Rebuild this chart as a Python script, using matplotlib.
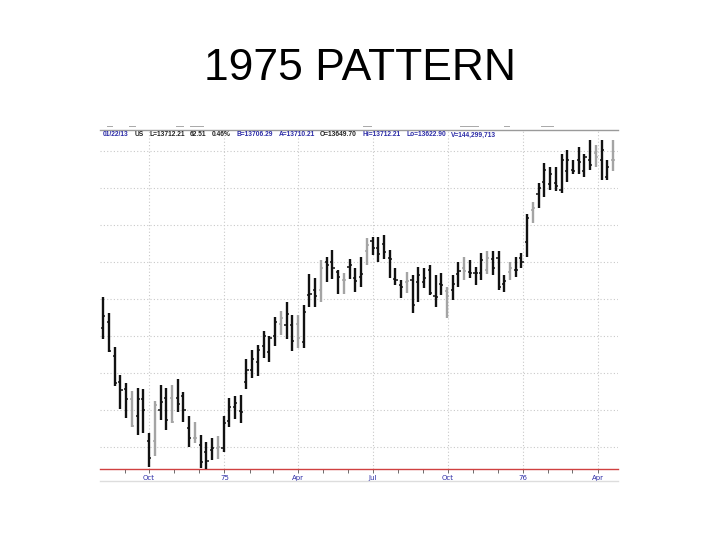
import numpy as np
import pandas as pd
import matplotlib
matplotlib.use("Agg")
import matplotlib.pyplot as plt
import matplotlib.dates as mdates
from matplotlib.lines import Line2D

# --- DATA: weekly bars (Aug 1974 - Apr 1976) ---
highs = [803, 781, 735, 697, 686, 676, 680, 678, 619, 662,
         684, 680, 684, 692, 674, 641, 634, 616, 607, 612,
         614, 642, 666, 668, 670, 718, 731, 738, 757, 750,
         776, 784, 796, 778, 778, 792, 834, 828, 853, 857,
         866, 839, 835, 854, 842, 857, 882, 883, 883, 886,
         866, 842, 826, 836, 832, 843, 842, 846, 832, 835,
         816, 832, 849, 857, 853, 843, 862, 864, 864, 864,
         832, 849, 857, 862, 914, 931, 957, 984, 978, 978,
         995, 1001, 988, 1005, 995, 1015, 1008, 1014, 988, 1015]
lows = [746, 728, 682, 651, 639, 627, 616, 619, 573, 588,
        636, 623, 632, 647, 634, 600, 605, 572, 569, 582,
        584, 593, 627, 638, 632, 678, 693, 696, 720, 714,
        736, 751, 746, 730, 734, 734, 789, 789, 796, 822,
        827, 807, 807, 827, 809, 816, 846, 859, 850, 854,
        828, 818, 801, 808, 781, 796, 815, 805, 789, 805,
        774, 799, 816, 826, 828, 819, 826, 834, 832, 812,
        809, 826, 830, 841, 857, 903, 923, 938, 947, 945,
        943, 958, 968, 968, 965, 974, 978, 961, 961, 972]
opens = [761, 768, 722, 688, 678, 664, 642, 664, 608, 608,
         650, 666, 666, 666, 668, 626, 612, 603, 593, 596,
         599, 599, 635, 654, 649, 687, 704, 715, 736, 728,
         750, 766, 764, 764, 766, 742, 805, 812, 812, 850,
         850, 836, 826, 843, 828, 830, 864, 878, 869, 874,
         855, 827, 818, 823, 826, 823, 822, 839, 804, 820,
         811, 812, 834, 841, 836, 835, 835, 839, 854, 855,
         820, 836, 839, 855, 877, 920, 941, 958, 955, 957,
         947, 972, 974, 988, 973, 988, 997, 988, 965, 988]
closes = [777, 730, 686, 677, 664, 628, 664, 650, 585, 656,
          660, 636, 634, 658, 650, 612, 612, 580, 581, 599,
          600, 632, 654, 659, 647, 704, 718, 731, 750, 747,
          769, 774, 780, 743, 747, 782, 807, 804, 842, 846,
          842, 830, 826, 846, 824, 834, 872, 869, 861, 863,
          854, 826, 816, 824, 792, 832, 828, 808, 803, 819,
          804, 820, 838, 838, 835, 835, 853, 855, 841, 816,
          824, 842, 839, 850, 909, 922, 950, 974, 968, 953,
          987, 987, 972, 985, 991, 981, 991, 1001, 978, 987]
# 1 = bar shown in light grey in the original
grey = [0, 0, 0, 0, 0, 1, 0, 0, 0, 1,
        0, 0, 1, 0, 0, 0, 1, 0, 0, 0,
        1, 0, 0, 0, 0, 0, 0, 0, 0, 0,
        0, 1, 0, 0, 1, 0, 0, 0, 1, 0,
        0, 0, 1, 0, 0, 0, 1, 0, 0, 0,
        0, 0, 0, 1, 0, 0, 0, 0, 0, 0,
        1, 0, 0, 1, 0, 0, 0, 1, 0, 0,
        0, 1, 0, 0, 0, 1, 0, 0, 0, 0,
        0, 0, 0, 0, 0, 0, 1, 0, 0, 1]

first_week = "1974-08-06"
grid_levels = [600, 650, 700, 750, 800, 850, 900, 950, 1000]

header = [("01/22/13", "blue"), ("US", "dark"), ("L=13712.21", "dark"),
          ("62.51", "dark"), ("0.46%", "dark"), ("B=13706.29", "blue"),
          ("A=13710.21", "blue"), ("O=13649.70", "dark"), ("Hi=13712.21", "blue"),
          ("Lo=13622.90", "blue"), ("V=144,299,713", "blue")]

dates = pd.date_range(first_week, periods=len(highs), freq="7D")

BLUE = "#2b2ba6"
DARK = "#222222"

fig = plt.figure(figsize=(7.2, 5.4), dpi=100)
fig.patch.set_facecolor("white")

fig.text(0.5, 1 - 69 / 540, "1975 PATTERN", ha="center", va="center",
         fontsize=32, family="Liberation Sans", color="black")

ax = fig.add_axes([100 / 720, 1 - 469 / 540, 518 / 720, 339 / 540])
ax.set_xlim(mdates.date2num(pd.Timestamp("1974-08-02")),
            mdates.date2num(pd.Timestamp("1976-04-26")))
ax.set_ylim(570, 1028)

x = mdates.date2num(dates)
dx = 2.6
for xi, h, l, o, c, g in zip(x, highs, lows, opens, closes, grey):
    col = "#a4a4a4" if g else "#111111"
    ax.vlines(xi, l, h, color=col, lw=1.7, zorder=3)
    ax.hlines(o, xi - dx, xi, color=col, lw=1.1, zorder=3)
    ax.hlines(c, xi, xi + dx, color=col, lw=1.1, zorder=3)

# grid
for lv in grid_levels:
    ax.axhline(lv, color="#c9c9c9", lw=0.8, ls=(0, (1, 2)), zorder=1)

ax.xaxis.set_major_locator(mdates.MonthLocator(bymonth=[1, 4, 7, 10]))
ax.xaxis.set_minor_locator(mdates.MonthLocator())


def fmt(v, pos=None):
    d = mdates.num2date(v)
    return d.strftime("%y") if d.month == 1 else d.strftime("%b")


ax.xaxis.set_major_formatter(plt.FuncFormatter(fmt))
for t in ax.get_xticks():
    ax.axvline(t, color="#c9c9c9", lw=0.8, ls=(0, (1, 2)), zorder=1)

ax.tick_params(axis="x", which="both", length=3, width=0.6, color="#555555",
               direction="out", pad=1.5, labelsize=5, labelcolor=BLUE)
ax.tick_params(axis="y", left=False, labelleft=False)
ax.set_yticks([])

for s in ["left", "right"]:
    ax.spines[s].set_visible(False)
ax.spines["bottom"].set_color("#d04040")
ax.spines["bottom"].set_linewidth(1.0)
ax.spines["top"].set_color("#9a9a9a")
ax.spines["top"].set_linewidth(1.0)

# header line of quote data, laid out piece by piece
fig.canvas.draw()
rend = fig.canvas.get_renderer()
x_start, x_end, gap = 103, 497, 5.5
probe = [fig.text(0, 0, s, fontsize=5, fontweight="bold", family="Liberation Sans")
         for s, _ in header]
widths = [p.get_window_extent(rend).width for p in probe]
for p in probe:
    p.remove()
hdr_size = 5 * (x_end - x_start - gap * (len(header) - 1)) / sum(widths)
xp = x_start
for s, kind in header:
    t = fig.text(xp / 720, 1 - 135 / 540, s, ha="left", va="center",
                 fontsize=hdr_size, fontweight="bold", family="Liberation Sans",
                 color=BLUE if kind == "blue" else DARK)
    xp = t.get_window_extent(rend).x1 + gap

# faint toolbar remnants above the chart and bottom border
for x0, x1 in [(107, 112), (129, 135), (176, 183), (190, 203), (363, 371),
               (460, 478), (504, 509), (541, 553)]:
    fig.add_artist(Line2D([x0 / 720, x1 / 720], [1 - 125.5 / 540] * 2,
                          color="#a8a8a8", lw=0.7))
fig.add_artist(Line2D([100 / 720, 618 / 720], [1 - 481 / 540] * 2,
                      color="#dddddd", lw=1.0))

fig.savefig("out.png", dpi=100)
